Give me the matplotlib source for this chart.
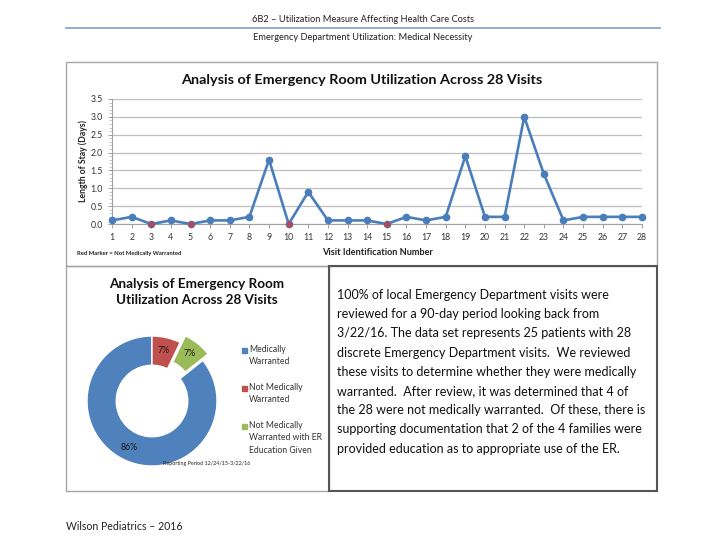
import numpy as np
import matplotlib.pyplot as plt
from matplotlib.patches import Rectangle
from matplotlib.lines import Line2D

plt.rcParams['font.family'] = ['Lato', 'DejaVu Sans']

# data
visits = list(range(1, 29))
stay = [0.1, 0.2, 0.0, 0.1, 0.0, 0.1, 0.1, 0.2, 1.8, 0.0,
        0.9, 0.1, 0.1, 0.1, 0.0, 0.2, 0.1, 0.2, 1.9, 0.2,
        0.2, 3.0, 1.4, 0.1, 0.2, 0.2, 0.2, 0.2]
not_warranted = [3, 5, 10, 15]
y_ticks = [0.0, 0.5, 1.0, 1.5, 2.0, 2.5, 3.0, 3.5]

pie_labels = ['Medically\nWarranted', 'Not Medically\nWarranted',
              'Not Medically\nWarranted with ER\nEducation Given']
pie_counts = [24, 2, 2]
pie_colors = ['#4f81bd', '#c0504d', '#9bbb59']

body = ("100% of local Emergency Department visits were\n"
        "reviewed for a 90-day period looking back from\n"
        "3/22/16. The data set represents 25 patients with 28\n"
        "discrete Emergency Department visits.  We reviewed\n"
        "these visits to determine whether they were medically\n"
        "warranted.  After review, it was determined that 4 of\n"
        "the 28 were not medically warranted.  Of these, there is\n"
        "supporting documentation that 2 of the 4 families were\n"
        "provided education as to appropriate use of the ER.")

W, H = 724, 559


def fx(x):
    return x / W


def fy(y):
    return 1 - y / H


def box(x0, y0, x1, y1):
    return [x0 / W, 1 - y1 / H, (x1 - x0) / W, (y1 - y0) / H]


fig = plt.figure(figsize=(W / 100, H / 100), dpi=100)

# page header / footer
fig.text(fx(363), fy(19), '6B2 – Utilization Measure Affecting Health Care Costs',
         ha='center', va='center', fontsize=6.7, color='#222222')
fig.add_artist(Line2D([fx(66), fx(660)], [fy(28), fy(28)], color='#7f9ccb', lw=1.2))
fig.text(fx(363), fy(37), 'Emergency Department Utilization: Medical Necessity',
         ha='center', va='center', fontsize=6.7, color='#222222')
fig.text(fx(66), fy(527), 'Wilson Pediatrics – 2016', ha='left', va='center',
         fontsize=7.6, color='#222222')

# panel frames
fig.add_artist(Rectangle((fx(66), fy(266)), (657 - 66) / W, (266 - 62) / H,
                         transform=fig.transFigure, fill=False, ec='#a6a6a6', lw=1))
fig.add_artist(Rectangle((fx(66), fy(491)), (329 - 66) / W, (491 - 266) / H,
                         transform=fig.transFigure, fill=False, ec='#a6a6a6', lw=1))
fig.add_artist(Rectangle((fx(329), fy(491)), (657 - 329) / W, (491 - 266) / H,
                         transform=fig.transFigure, fill=False, ec='#555555', lw=1.5))

# line chart
ax = fig.add_axes(box(112, 99, 642, 224))
ax.plot(visits, stay, color='#4a7ebb', lw=1.9, marker='o', ms=4.5, clip_on=False, zorder=3)
red_y = [stay[v - 1] for v in not_warranted]
ax.plot(not_warranted, red_y, ls='none', marker='o', ms=3.6, color='#b04a5a',
        clip_on=False, zorder=4)
ax.set_xlim(1, 28)
ax.set_ylim(0, 3.5)
ax.set_xticks(visits)
ax.set_yticks(y_ticks)
ax.set_yticklabels(['%.1f' % t for t in y_ticks])
ax.set_yticks(np.arange(0, 3.51, 0.1), minor=True)
ax.yaxis.grid(True, color='#bfbfbf', lw=0.9)
ax.set_axisbelow(True)
for s in ['top', 'right']:
    ax.spines[s].set_visible(False)
ax.spines['left'].set_color('#a0a0a0')
ax.spines['bottom'].set_color('#a0a0a0')
ax.tick_params(axis='both', labelsize=6.3, colors='#a0a0a0', labelcolor='#333333',
               length=3, width=0.7)
ax.tick_params(axis='y', which='minor', length=2, width=0.5, colors='#b0b0b0')
ax.set_xlabel('Visit Identification Number', fontsize=6.6, fontweight='bold',
              color='#222222', labelpad=4)
ax.set_ylabel('Length of Stay (Days)', fontsize=6.2, fontweight='bold',
              color='#222222', labelpad=2)
fig.text(fx(362), fy(80), 'Analysis of Emergency Room Utilization Across 28 Visits',
         ha='center', va='center', fontsize=10.4, fontweight='bold', color='#111111')
fig.text(fx(77), fy(253), 'Red Marker = Not Medically Warranted', ha='left', va='center',
         fontsize=4.2, fontweight='bold', color='#222222')

# donut chart
r_px = 65 * 1.15
cx, cy = 152, 401
pax = fig.add_axes(box(cx - r_px, cy - r_px, cx + r_px, cy + r_px))
wedges, texts, autotexts = pax.pie(
    pie_counts, colors=pie_colors, startangle=90 - 360 * 4 / 28, counterclock=False,
    explode=[0, 0, 0.13], autopct='%1.0f%%', pctdistance=0.8,
    wedgeprops=dict(width=0.45, edgecolor='white', linewidth=1),
    textprops=dict(fontsize=6.3, color='#1a1a1a'))
pax.set_xlim(-1.15, 1.15)
pax.set_ylim(-1.15, 1.15)
pax.set_aspect('equal')
pax.axis('off')

fig.text(fx(197), fy(292), 'Analysis of Emergency Room\nUtilization Across 28 Visits',
         ha='center', va='center', fontsize=9.7, fontweight='bold', color='#111111',
         linespacing=1.4)

# legend
leg_y = [350, 388, 426]
for lab, col, yy in zip(pie_labels, pie_colors, leg_y):
    fig.add_artist(Rectangle((fx(241.5), fy(yy + 2.5)), 5 / W, 5 / H,
                             transform=fig.transFigure, color=col))
    fig.text(fx(249), fy(yy - 5), lab, ha='left', va='top', fontsize=6.2,
             color='#333333', linespacing=1.5)

fig.text(fx(207), fy(464), 'Reporting Period 12/24/15-3/22/16', ha='center', va='center',
         fontsize=3.9, color='#222222')

# commentary box
fig.text(fx(337), fy(289), body, ha='left', va='top', fontsize=9.0, color='#111111',
         linespacing=1.72)

fig.savefig('out.png', dpi=100)
